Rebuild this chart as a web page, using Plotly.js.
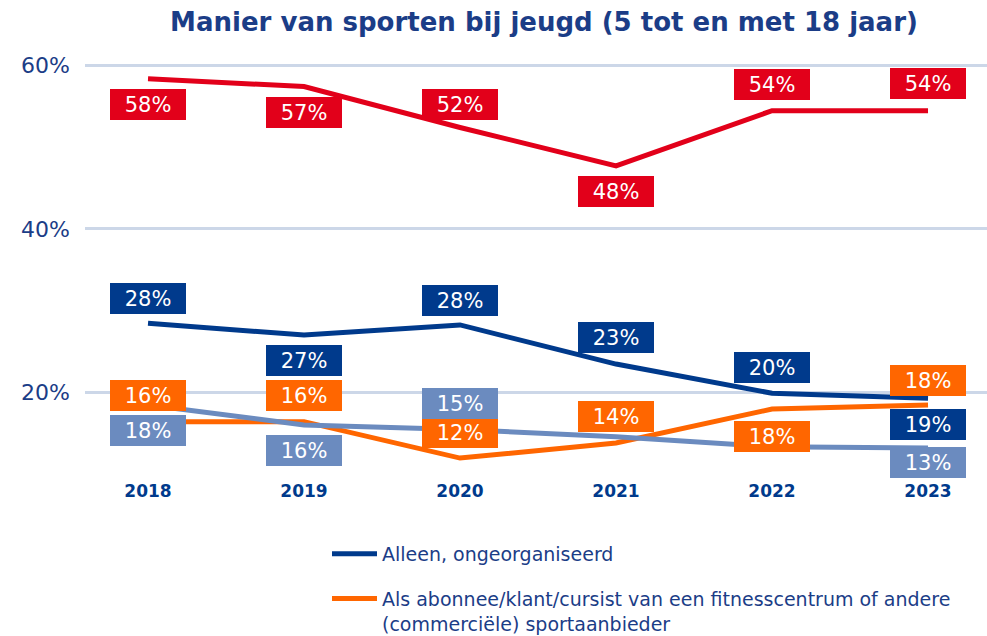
<!DOCTYPE html>
<html>
<head>
<meta charset="utf-8">
<script src="https://cdn.plot.ly/plotly-3.0.1.min.js"></script>
<style>html,body{margin:0;padding:0;background:#fff;}#chart{width:987px;height:636px;}</style>
</head>
<body>
<div id="chart"></div>
<script>
// ---- data ----
const years = ['2018', '2019', '2020', '2021', '2022', '2023'];
const vereniging = [58.37, 57.4, 52.4, 47.7, 54.45, 54.45];      // red
const alleen = [28.45, 27.0, 28.24, 23.45, 19.88, 19.27];          // dark blue
const commercieel = [16.4, 16.4, 11.95, 13.8, 17.95, 18.44];      // orange
const georganiseerd = [18.45, 16.0, 15.45, 14.56, 13.34, 13.18];  // light blue

const nameVereniging = 'Als lid van een sportvereniging';
const nameAlleen = 'Alleen, ongeorganiseerd';
const nameCommercieel = 'Als abonnee/klant/cursist van een fitnesscentrum of andere<br>(commerciële) sportaanbieder';
const nameGeorganiseerd = 'Georganiseerd, anders';

const yTickVals = [20, 40, 60];
const yTickText = ['20%', '40%', '60%'];

// ---- styling / label placement (px offsets, null = no label) ----
const C_RED = '#E2001A', C_DARK = '#003A8C', C_ORANGE = '#FF6600', C_LIGHT = '#6B8BBF';
const TXT = '#1B3D87';
const offRed = [-26, -26, 23, -26, 26, 27];
const offDark = [25, -25, 24, 27, 26, -26];
const offOrange = [26, 26, 26, 26, -27, 25];
const offLight = [-26, -26, 26, null, null, -14];

const xIdx = years.map((_, i) => i);

function line(vals, color, name, show) {
  return {
    type: 'scatter', mode: 'lines', x: xIdx, y: vals, name: name,
    line: {color: color, width: 5, shape: 'linear'},
    showlegend: show, legendgroup: name, hoverinfo: 'skip'
  };
}

const traces = [
  line(vereniging, C_RED, nameVereniging, false),
  line(alleen, C_DARK, nameAlleen, true),
  line(commercieel, C_ORANGE, nameCommercieel, true),
  line(georganiseerd, C_LIGHT, nameGeorganiseerd, false)
];

const annotations = [];
function addLabels(vals, offs, color) {
  vals.forEach((v, i) => {
    if (offs[i] === null) return;
    annotations.push({
      x: xIdx[i], y: v, xref: 'x', yref: 'y', showarrow: false,
      text: Math.round(v) + '%', yshift: offs[i],
      font: {family: 'DejaVu Sans, Verdana, sans-serif', size: 21, color: '#ffffff'},
      bgcolor: color, borderwidth: 0, borderpad: 2, width: 72, height: 27,
      xanchor: 'center', yanchor: 'middle', align: 'center', valign: 'middle'
    });
  });
}
addLabels(vereniging, offRed, C_RED);
addLabels(alleen, offDark, C_DARK);
addLabels(commercieel, offOrange, C_ORANGE);
addLabels(georganiseerd, offLight, C_LIGHT);

const layout = {
  width: 987, height: 636,
  margin: {l: 85, r: 0, t: 49, b: 162, pad: 0, autoexpand: false},
  paper_bgcolor: '#ffffff', plot_bgcolor: '#ffffff',
  font: {family: 'DejaVu Sans, Verdana, sans-serif', color: TXT},
  title: {
    text: '<b>Manier van sporten bij jeugd (5 tot en met 18 jaar)</b>',
    font: {family: 'DejaVu Sans, Verdana, sans-serif', size: 26, color: TXT},
    x: 544 / 987, xref: 'container', xanchor: 'center',
    y: 1 - 22 / 636, yref: 'container', yanchor: 'middle'
  },
  xaxis: {
    type: 'linear', range: [-0.404, 5.378],
    tickvals: xIdx, ticktext: years.map(y => '<b>' + y + '</b>'),
    tickfont: {family: 'DejaVu Sans, Verdana, sans-serif', size: 17, color: C_DARK},
    showgrid: false, zeroline: false, showline: false, ticks: '',
    ticklabelstandoff: 5, fixedrange: true, automargin: false
  },
  yaxis: {
    range: [10, 62], tickvals: yTickVals, ticktext: yTickText,
    tickfont: {family: 'DejaVu Sans, Verdana, sans-serif', size: 22, color: TXT},
    showgrid: true, gridcolor: '#CCD7E8', gridwidth: 3,
    zeroline: false, showline: false, ticks: '', ticklabelstandoff: 14, fixedrange: true,
    automargin: false
  },
  showlegend: true,
  legend: {
    orientation: 'v', xref: 'container', yref: 'container',
    x: 327 / 987, xanchor: 'left', y: 1 - 535 / 636, yanchor: 'top',
    font: {family: 'DejaVu Sans, Verdana, sans-serif', size: 19, color: TXT},
    itemwidth: 45, tracegroupgap: 17, traceorder: 'grouped', valign: 'top',
    bgcolor: 'rgba(0,0,0,0)'
  },
  annotations: annotations
};

Plotly.newPlot('chart', traces, layout, {displayModeBar: false, staticPlot: true});
</script>
</body>
</html>
